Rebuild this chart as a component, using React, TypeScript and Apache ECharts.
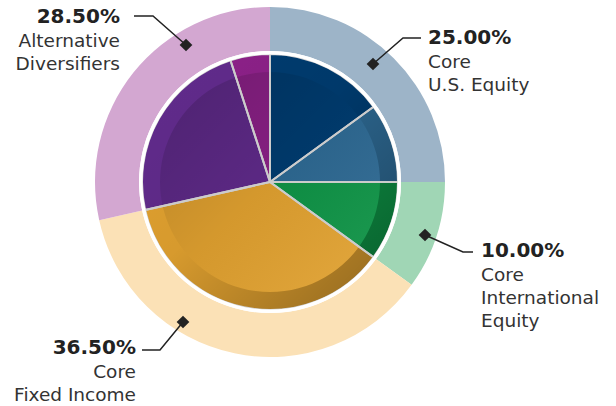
import { useEffect, useRef } from 'react';
import * as echarts from 'echarts';

// ---- data ----
const categories = ['Core U.S. Equity', 'Core International Equity', 'Core Fixed Income', 'Alternative Diversifiers'];
const allocation = [25.0, 10.0, 36.5, 28.5];
const labelTexts = [
  ['Core', 'U.S. Equity'],
  ['Core', 'International', 'Equity'],
  ['Core', 'Fixed Income'],
  ['Alternative', 'Diversifiers'],
];
const subNames = ['US Large', 'US Small/Mid', 'International', 'Fixed Income', 'Alternatives A', 'Alternatives B'];
const subValues = [15, 10, 10, 36.5, 23.5, 5];

// ---- styles ----
const outerColors = ['#9db4c8', '#a0d6b5', '#fbe1b6', '#d3a7d1'];
const innerColors = ['#003c70', '#2e6a94', '#0e9446', '#e2a230', '#612b8c', '#8d2189'];
const CX = 270;
const CY = 182;

// label layout (annotation positions)
const labelLayout = [
  { x: 428, y: 37, align: 'left', line: [[421, 38], [403, 38], [373, 64]] },
  { x: 481, y: 250, align: 'left', line: [[473, 252], [463, 252], [425, 235]] },
  { x: 136, y: 347, align: 'right', line: [[142, 350], [160, 350], [183, 322]] },
  { x: 120, y: 16, align: 'right', line: [[134, 16], [153, 16], [186, 45]] },
];

function buildGraphics() {
  const els: any[] = [];
  categories.forEach((_, i) => {
    const L = labelLayout[i];
    els.push({
      type: 'polyline',
      z: 100,
      shape: { points: L.line },
      style: { stroke: '#222', lineWidth: 1.5, fill: null },
      silent: true,
    });
    const d = L.line[2];
    els.push({
      type: 'rect',
      z: 101,
      x: d[0],
      y: d[1],
      rotation: Math.PI / 4,
      shape: { x: -4.5, y: -4.5, width: 9, height: 9 },
      style: { fill: '#222' },
      silent: true,
    });
    els.push({
      type: 'text',
      z: 100,
      x: L.x,
      y: L.y,
      style: {
        text: allocation[i].toFixed(2) + '%',
        font: 'bold 20px "DejaVu Sans"',
        fill: '#222',
        align: L.align,
        verticalAlign: 'middle',
        textAlign: L.align,
        textVerticalAlign: 'middle',
      },
      silent: true,
    });
    labelTexts[i].forEach((t, j) => {
      els.push({
        type: 'text',
        z: 100,
        x: L.x,
        y: L.y + 23 * (j + 1) + 1,
        style: {
          text: t,
          font: '18.5px "DejaVu Sans"',
          fill: '#333',
          align: L.align,
          verticalAlign: 'middle',
          textAlign: L.align,
          textVerticalAlign: 'middle',
        },
        silent: true,
      });
    });
  });
  return els;
}

const basePie = {
  type: 'pie',
  center: [CX, CY],
  startAngle: 90,
  clockwise: true,
  silent: true,
  label: { show: false },
  labelLine: { show: false },
  emphasis: { disabled: true },
  animation: false,
};

export default function App() {
  const ref = useRef<HTMLDivElement>(null);
  useEffect(() => {
    const chart = echarts.init(ref.current!, null, { renderer: 'svg' });
    const option: any = {
      animation: false,
      backgroundColor: '#ffffff',
      series: [
        {
          ...basePie,
          name: 'allocation',
          z: 1,
          radius: [131, 175],
          itemStyle: { borderWidth: 0 },
          data: categories.map((c, i) => ({ name: c, value: allocation[i], itemStyle: { color: outerColors[i] } })),
        },
        {
          ...basePie,
          name: 'detail',
          z: 2,
          radius: [0, 128],
          itemStyle: { borderWidth: 0 },
          data: subNames.map((n, i) => ({ name: n, value: subValues[i], itemStyle: { color: innerColors[i] } })),
        },
        {
          ...basePie,
          name: 'shadeInner',
          z: 3,
          radius: [0, 110],
          data: [
            {
              value: 1,
              itemStyle: {
                color: new echarts.graphic.LinearGradient(0, 0, 1, 1, [
                  { offset: 0, color: 'rgba(0,0,0,0.2)' },
                  { offset: 0.5, color: 'rgba(0,0,0,0.06)' },
                  { offset: 1, color: 'rgba(255,255,255,0.07)' },
                ]),
              },
            },
          ],
        },
        {
          ...basePie,
          name: 'shadeRing',
          z: 3,
          radius: [110, 128],
          data: [
            {
              value: 1,
              itemStyle: {
                color: new echarts.graphic.LinearGradient(0, 0, 1, 1, [
                  { offset: 0, color: 'rgba(0,0,0,0)' },
                  { offset: 0.45, color: 'rgba(0,0,0,0.05)' },
                  { offset: 1, color: 'rgba(0,0,0,0.38)' },
                ]),
              },
            },
          ],
        },
        {
          ...basePie,
          name: 'dividers',
          z: 4,
          radius: [0, 128],
          itemStyle: { color: 'rgba(0,0,0,0)', borderColor: '#cccccc', borderWidth: 2 },
          data: subNames.map((n, i) => ({ name: n, value: subValues[i] })),
        },
        {
          ...basePie,
          name: 'rim',
          z: 5,
          radius: [127.5, 131],
          itemStyle: { color: '#ffffff', borderWidth: 0 },
          data: [{ value: 1 }],
        },
      ],
      graphic: buildGraphics(),
    };
    chart.setOption(option);
    return () => chart.dispose();
  }, []);
  return <div ref={ref} style={{ position: 'absolute', left: 0, top: 0, width: 616, height: 406 }} />;
}
